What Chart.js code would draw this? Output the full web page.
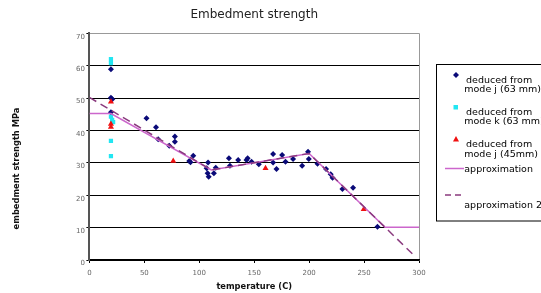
<!DOCTYPE html>
<html>
<head>
<meta charset="utf-8">
<script src="https://cdn.jsdelivr.net/npm/chart.js@4/dist/chart.umd.min.js"></script>
<style>
  html, body { margin: 0; padding: 0; background: #fff; overflow: hidden; }
  #wrap { width: 541px; height: 293px; position: relative; }
</style>
</head>
<body>
<div id="wrap"><canvas id="chart" width="541" height="293"></canvas></div>
<script>
// --- Data ---
const tempBlue = [19.6, 19.6, 20.8, 19.6, 52, 60.6, 62.6, 72.7, 77.8, 77.8, 90.9, 92, 94.5,
  106.7, 108, 107.6, 108.6, 113.3, 115, 127, 127.9, 135.4, 143, 144, 147.6, 154.2,
  167.2, 167.2, 170.3, 175.4, 178.5, 185.4, 193.6, 199, 199.7, 207.6,
  215.4, 219.6, 221.3, 230.3, 240, 262.2];
const strengthBlue = [58.9, 50.1, 49.6, 45.6, 43.8, 41, 37.3, 35.3, 38.1, 36.5, 30.6, 30.2, 32.2,
  28.3, 30.1, 26.8, 25.7, 26.8, 28.5, 31.4, 29.1, 30.9, 30.9, 31.4, 30.3, 29.6,
  32.7, 30.1, 28.1, 32.4, 30.3, 31.2, 29.1, 33.4, 31.2, 29.7,
  28.1, 26.5, 25.4, 21.9, 22.3, 10.3];

const tempCyan = [19.6, 19.6, 19.6, 20.7, 21.6, 19.6, 19.6];
const strengthCyan = [62.0, 60.8, 44.3, 43.3, 42.6, 36.8, 32.1];

const tempRed = [19.6, 19.6, 19.6, 76.3, 160.3, 249.7];
const strengthRed = [48.9, 42.0, 41.1, 30.6, 28.3, 15.7];

const approxX = [0, 19.6, 111, 200, 269, 300];
const approxY = [45.2, 45.2, 27.8, 32.9, 10.1, 10.1];

const approx2X = [0, 111, 200, 295.2];
const approx2Y = [50.2, 27.8, 32.9, 1.5];

const legendLabels = [
  ['deduced from', 'mode j (63 mm)'],
  ['deduced from', 'mode k (63 mm)'],
  ['deduced from', 'mode j (45mm)'],
  ['approximation'],
  ['approximation 2']
];

const BLUE = '#0a0a78';
const CYAN = '#22e6f2';
const RED = '#f01010';
const MAGENTA = '#cc66cc';
const PURPLE = '#8a3a7e';
const FONT = "'DejaVu Sans', sans-serif";

function pairs(xs, ys) {
  return xs.map((x, i) => ({ x: x, y: ys[i] }));
}

// --- Y axis title, drawn along the whole left side like the original ---
const yTitlePlugin = {
  id: 'yTitle',
  afterDraw(chart) {
    const ctx = chart.ctx;
    ctx.save();
    ctx.translate(16.6, 168.5);
    ctx.rotate(-Math.PI / 2);
    ctx.font = 'bold 8.3px ' + FONT;
    ctx.fillStyle = '#111';
    ctx.textAlign = 'center';
    ctx.textBaseline = 'middle';
    ctx.fillText('embedment strength MPa', 0, 0);
    ctx.restore();
  }
};

// --- Boxed legend on the right (cut off by the canvas edge) ---
const boxLegendPlugin = {
  id: 'boxLegend',
  afterDraw(chart) {
    const ctx = chart.ctx;
    ctx.save();
    ctx.strokeStyle = '#000';
    ctx.lineWidth = 1;
    ctx.strokeRect(436.5, 64.5, 150, 156.5);

    ctx.font = '9.5px ' + FONT;
    ctx.fillStyle = '#000';
    ctx.textBaseline = 'middle';
    ctx.textAlign = 'left';

    // diamond
    ctx.fillStyle = BLUE;
    ctx.beginPath();
    ctx.moveTo(456, 72); ctx.lineTo(459, 75); ctx.lineTo(456, 78); ctx.lineTo(453, 75);
    ctx.closePath(); ctx.fill();
    // square
    ctx.fillStyle = CYAN;
    ctx.fillRect(453.5, 105, 4.5, 4.5);
    // triangle
    ctx.fillStyle = RED;
    ctx.beginPath();
    ctx.moveTo(456, 136); ctx.lineTo(459, 141.5); ctx.lineTo(453, 141.5);
    ctx.closePath(); ctx.fill();
    // solid line
    ctx.strokeStyle = MAGENTA;
    ctx.lineWidth = 1.5;
    ctx.beginPath(); ctx.moveTo(445, 168.5); ctx.lineTo(464, 168.5); ctx.stroke();
    // dashed line
    ctx.strokeStyle = PURPLE;
    ctx.setLineDash([6, 4]);
    ctx.beginPath(); ctx.moveTo(445, 195); ctx.lineTo(462, 195); ctx.stroke();
    ctx.setLineDash([]);

    ctx.fillStyle = '#000';
    const rows = [[80.7, 90], [112.7, 121.7], [145, 154.3], [169.3], [205.7]];
    rows.forEach((ys, i) => {
      ys.forEach((y, j) => {
        const x = (j === 0 && i < 3) ? 466 : 464.3;
        ctx.fillText(legendLabels[i][j], x, y);
      });
    });
    ctx.restore();
  }
};

const ctx = document.getElementById('chart').getContext('2d');
new Chart(ctx, {
  type: 'scatter',
  data: {
    datasets: [
      {
        label: 'approximation',
        data: pairs(approxX, approxY),
        showLine: true,
        borderColor: MAGENTA,
        borderWidth: 1.5,
        pointRadius: 0,
        fill: false,
        order: 1
      },
      {
        label: 'approximation 2',
        data: pairs(approx2X, approx2Y),
        showLine: true,
        borderColor: PURPLE,
        borderWidth: 1.5,
        borderDash: [8, 5],
        pointRadius: 0,
        fill: false,
        order: 0
      },
      {
        label: 'deduced from mode j (63 mm)',
        data: pairs(tempBlue, strengthBlue),
        pointStyle: 'rectRot',
        pointRadius: 3,
        backgroundColor: BLUE,
        borderColor: BLUE,
        borderWidth: 0,
        order: 4
      },
      {
        label: 'deduced from mode k (63 mm)',
        data: pairs(tempCyan, strengthCyan),
        pointStyle: 'rect',
        pointRadius: 3,
        backgroundColor: CYAN,
        borderColor: CYAN,
        borderWidth: 0,
        order: 3
      },
      {
        label: 'deduced from mode j (45mm)',
        data: pairs(tempRed, strengthRed),
        pointStyle: 'triangle',
        pointRadius: 3.5,
        backgroundColor: RED,
        borderColor: RED,
        borderWidth: 0,
        order: 2
      }
    ]
  },
  options: {
    responsive: false,
    animation: false,
    layout: { padding: { left: 0, right: 122, top: 0, bottom: 0 } },
    plugins: {
      legend: { display: false },
      tooltip: { enabled: false },
      title: {
        display: true,
        text: 'Embedment strength',
        fullSize: false,
        color: '#222',
        font: { family: FONT, size: 12, weight: 'normal' },
        padding: { top: 7.8, bottom: 11.1 }
      }
    },
    scales: {
      x: {
        type: 'linear',
        min: 0,
        max: 300,
        afterFit(scale) { scale.height = 33; },
        ticks: {
          stepSize: 50,
          color: '#666',
          font: { family: FONT, size: 7 },
          padding: 6,
          maxRotation: 0
        },
        grid: {
          color: c => (c.tick && c.tick.value === 300) ? '#999' : 'rgba(0,0,0,0)',
          tickColor: '#000',
          tickLength: 3,
          lineWidth: 1
        },
        border: { color: '#000', width: 1.5 },
        title: {
          display: true,
          text: 'temperature (C)',
          color: '#111',
          font: { family: FONT, size: 8.3, weight: 'bold' },
          padding: { top: 0, bottom: 1.3 }
        }
      },
      y: {
        min: 0,
        max: 70,
        afterFit(scale) { scale.width = 89.4; },
        ticks: {
          stepSize: 10,
          color: '#666',
          font: { family: FONT, size: 7 },
          padding: 1.5,
          labelOffset: 3.5
        },
        grid: {
          color: c => (c.tick && c.tick.value === 70) ? '#999' : '#000',
          tickColor: '#000',
          tickLength: 3,
          lineWidth: 1
        },
        border: { color: '#555', width: 2 }
      }
    }
  },
  plugins: [yTitlePlugin, boxLegendPlugin]
});
</script>
</body>
</html>
